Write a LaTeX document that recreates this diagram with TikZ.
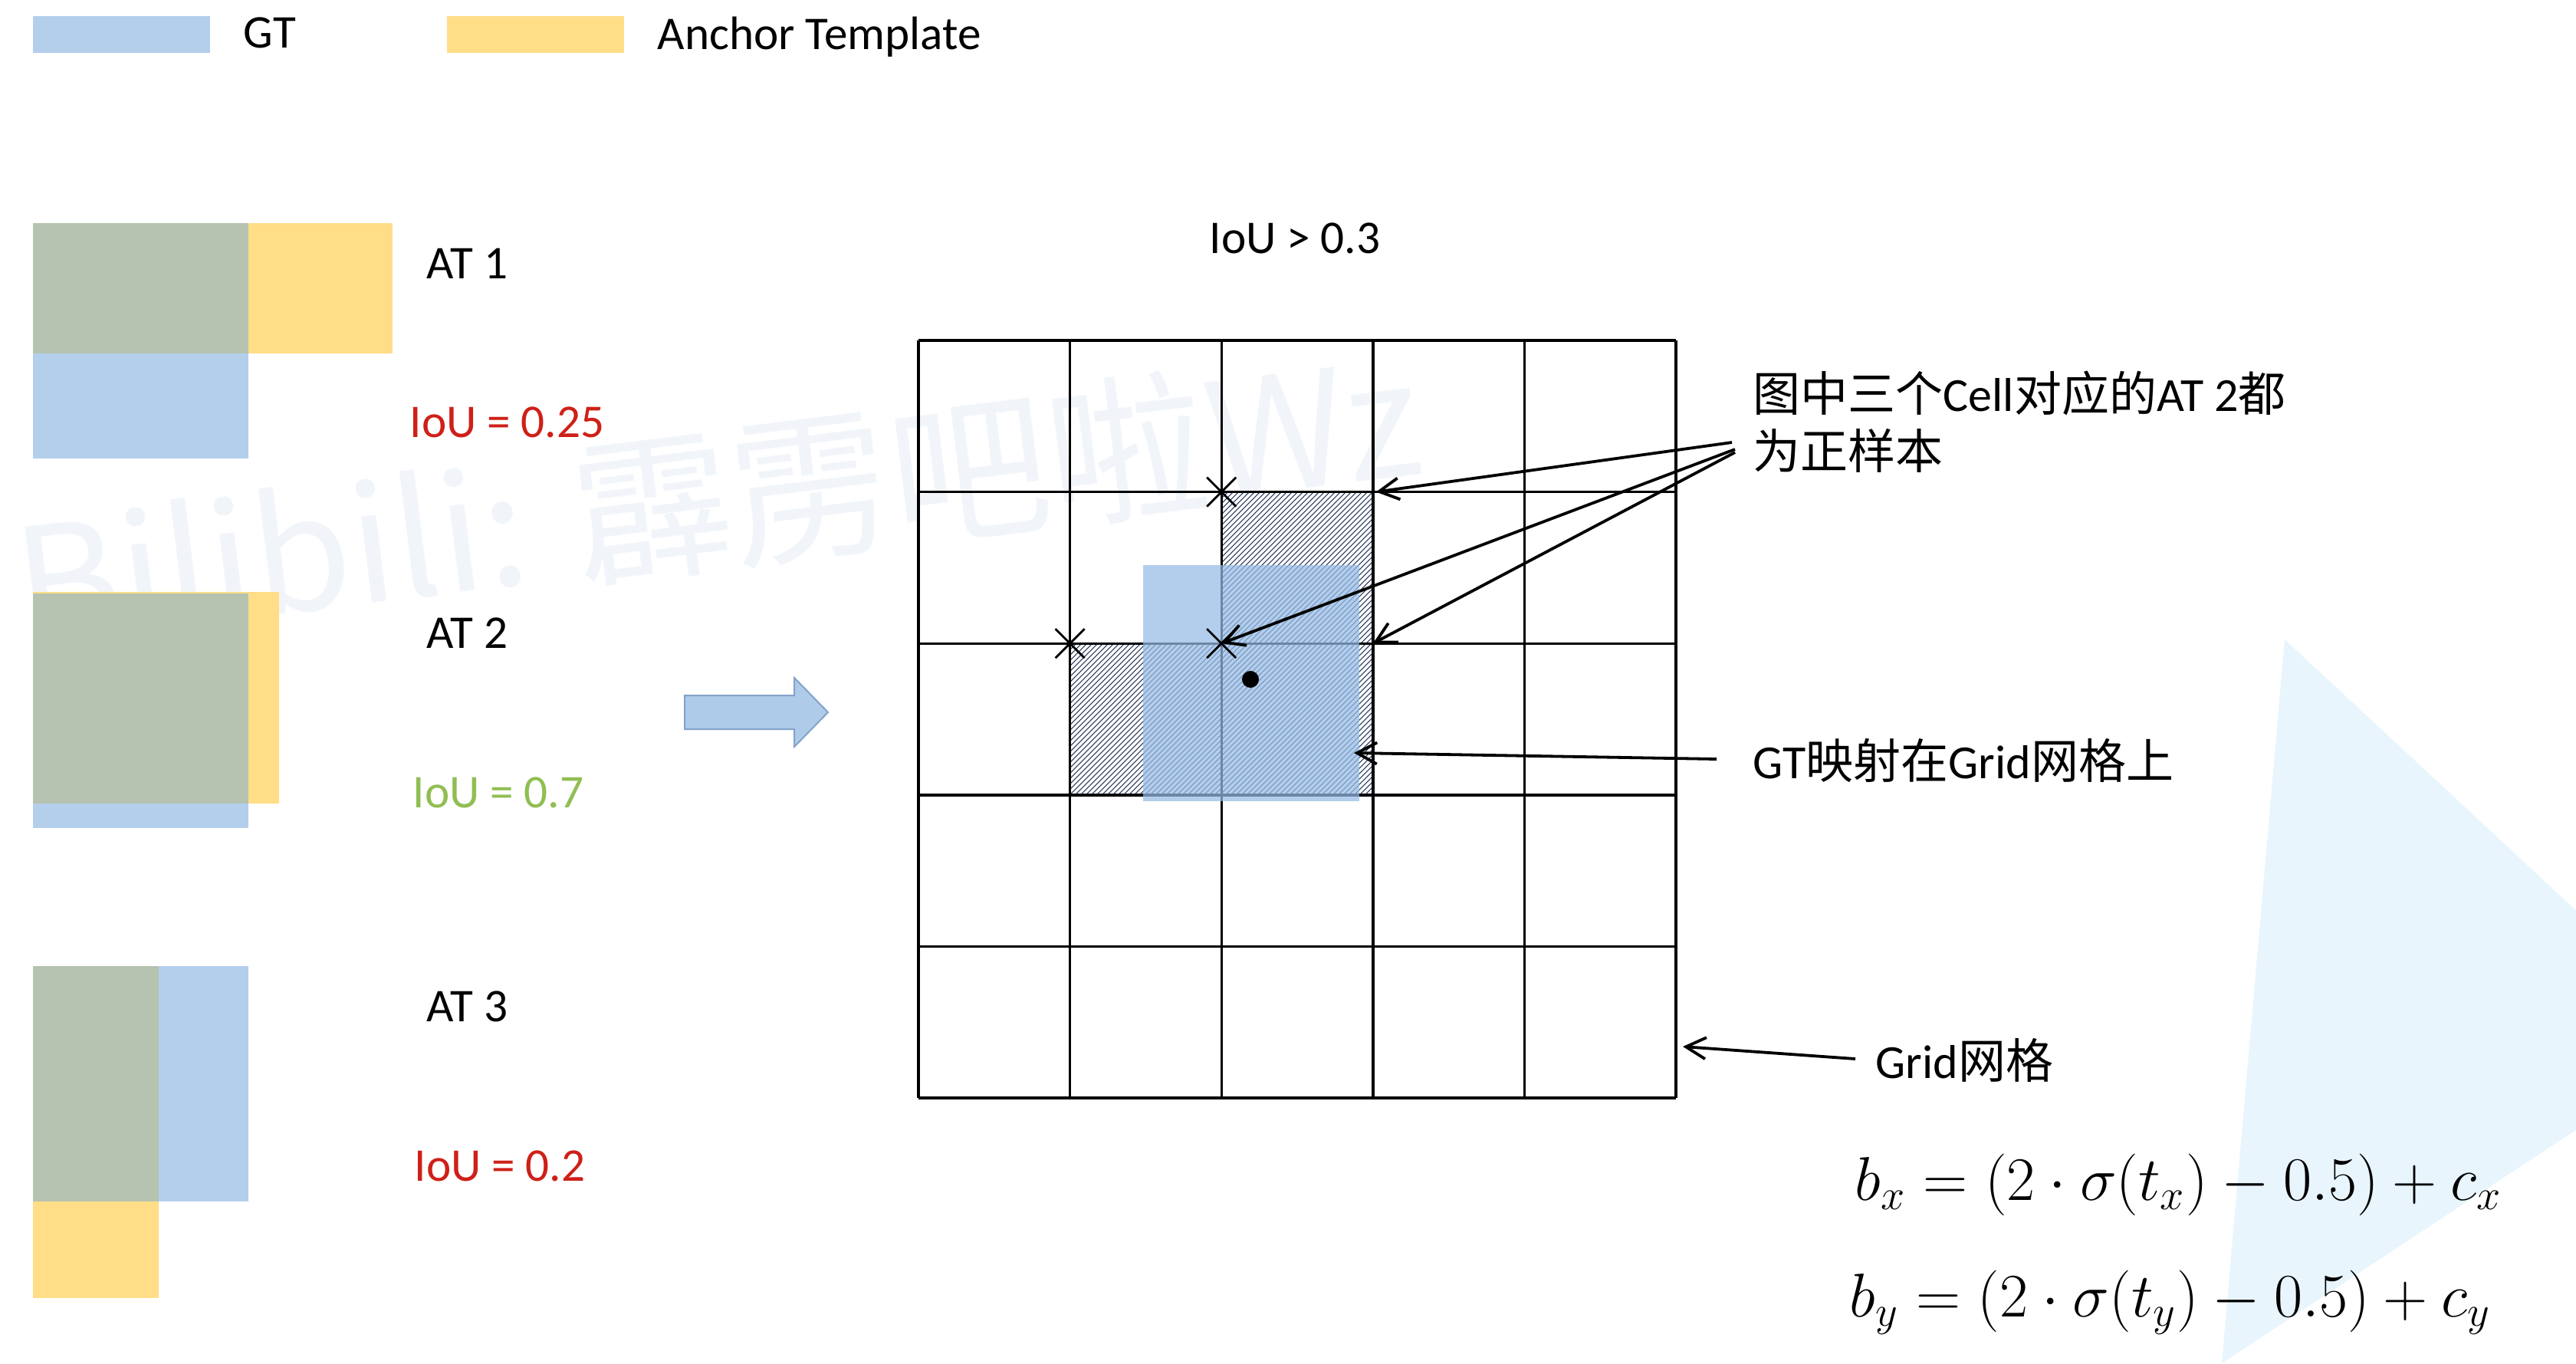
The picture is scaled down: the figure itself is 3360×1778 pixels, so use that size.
\documentclass[tikz,border=0pt]{standalone}
\usepackage{fontspec}
\setmainfont{Carlito}
\newfontfamily\cjk{Noto Sans CJK SC}
\usetikzlibrary{arrows.meta}
\definecolor{gtblue}{RGB}{180,207,236}
\definecolor{gtblueT}{RGB}{150,188,230}
\definecolor{atyellow}{RGB}{255,222,135}
\definecolor{overlap}{RGB}{182,195,176}
\definecolor{ioured}{RGB}{206,32,24}
\definecolor{iougreen}{RGB}{144,190,82}
\definecolor{wmark}{RGB}{195,212,235}
\definecolor{tri}{RGB}{232,245,253}
\definecolor{arrfill}{RGB}{174,204,234}
\definecolor{arrdraw}{RGB}{132,162,200}
\definecolor{hatchc}{RGB}{40,55,90}
\begin{document}
\begin{tikzpicture}[x=0.25pt,y=-0.25pt,
  lbl/.style={anchor=base west,inner sep=0pt,font=\fontsize{15.3}{18}\selectfont},
  cjklbl/.style={anchor=base west,inner sep=0pt,font=\fontsize{15.5}{18.6}\selectfont},
  mathlbl/.style={anchor=base west,inner sep=0pt,font=\fontsize{20.74}{24}\selectfont},
  ptr/.style={line width=0.95pt,-{Straight Barb[length=6.5pt,width=7pt]}},
  gridline/.style={line width=0.85pt},
  crossline/.style={line width=0.7pt},
  hatchline/.style={line width=0.26pt,draw=hatchc}]
\useasboundingbox (0,0) rectangle (3360,1778);
\fill[white] (0,0) rectangle (3360,1778);
% background triangle
\begin{scope}
\clip (0,0) rectangle (3360,1778);
\fill[tri] (2980,834) -- (3540,1355) -- (2898,1778) -- cycle;
\end{scope}
% watermark (faint, behind)
\node[anchor=base west,inner sep=0pt,rotate=7,text=wmark,text opacity=0.22,
  font=\cjk\fontsize{52}{60}\selectfont] (wm) at (30,842) {Bilibili: 霹雳吧啦Wz};
% legend
\fill[gtblue] (43,21) rectangle (274,69);
\node[lbl] (lgt) at (317,62) {GT};
\fill[atyellow] (583,21) rectangle (814,69);
\node[lbl] (lat) at (857,64) {Anchor Template};
% AT 1
\fill[gtblue] (43,291) rectangle (324,598);
\fill[atyellow] (43,291) rectangle (512,461);
\fill[overlap] (43,291) rectangle (324,461);
\node[lbl] (at1) at (556,363) {AT 1};
\node[lbl,text=ioured] (iou1) at (534,570) {IoU = 0.25};
% AT 2
\fill[gtblue] (43,774) rectangle (324,1080);
\fill[atyellow] (43,772) rectangle (364,1048);
\fill[overlap] (43,774) rectangle (324,1048);
\node[lbl] (at2) at (556,845) {AT 2};
\node[lbl,text=iougreen] (iou2) at (538,1053) {IoU = 0.7};
% AT 3
\fill[gtblue] (43,1260) rectangle (324,1567);
\fill[atyellow] (43,1260) rectangle (207,1693);
\fill[overlap] (43,1260) rectangle (207,1567);
\node[lbl] (at3) at (556,1332) {AT 3};
\node[lbl,text=ioured] (iou3) at (540,1540) {IoU = 0.2};
% big arrow
\filldraw[fill=arrfill,draw=arrdraw,line width=0.5pt]
  (893,907) -- (1036,907) -- (1036,884) -- (1080,929) -- (1036,974) -- (1036,951) -- (893,951) -- cycle;
% grid coordinates
\foreach \i in {0,...,5}{
  \foreach \j in {0,...,5}{
    \coordinate (g-\i-\j) at ({1198+197.6*\i},{444+197.6*\j});
  }
}
% hatching
\begin{scope}
\clip (g-2-1) -- (g-3-1) -- (g-3-3) -- (g-1-3) -- (g-1-2) -- (g-2-2) -- cycle;
\foreach \k in {0,...,114}{
  \draw[hatchline] ({1000+\k*7},1040) -- ++(405,-405);
}
\end{scope}
% grid lines
\foreach \i in {0,...,5}{
  \draw[gridline] (g-\i-0) -- (g-\i-5);
  \draw[gridline] (g-0-\i) -- (g-5-\i);
}
% GT on grid
\fill[gtblueT,fill opacity=0.72] (1491,737) rectangle (1773,1045);
% crosses
\foreach \p in {g-2-1,g-1-2,g-2-2}{
  \draw[crossline] (\p) ++(-19,-19) -- ++(38,38);
  \draw[crossline] (\p) ++(-19,19) -- ++(38,-38);
}
\node[circle,fill=black,inner sep=0pt,minimum size=5.5pt] (dot) at (1631,886) {};
% labels
\node[lbl] (iou) at (1577,330) {IoU > 0.3};
\node[cjklbl] (ann1) at (2286,536) {{\cjk 图中三个}Cell{\cjk 对应的}AT 2{\cjk 都}};
\node[cjklbl] (ann2) at (2286,611) {{\cjk 为正样本}};
\node[cjklbl] (ann3) at (2286,1015) {GT{\cjk 映射在}Grid{\cjk 网格上}};
\node[cjklbl] (ann4) at (2446,1406) {Grid{\cjk 网格}};
% connectors
\coordinate (s1) at (2259,577);
\coordinate (s2) at (2263,586);
\coordinate (s3) at (2263,590);
\coordinate (s4) at (2239,990);
\coordinate (t4) at (1766,982);
\coordinate (s5) at (2420,1381);
\coordinate (t5) at (2195,1365);
\draw[ptr] (s1) -- ([xshift=1pt]g-3-1);
\draw[ptr] (s2) -- (g-2-2);
\draw[ptr] (s3) -- (g-3-2);
\draw[ptr] (s4) -- (t4);
\draw[ptr] (s5) -- (t5);
% formulas
\node[mathlbl] (fx) at (2419,1565) {\scalebox{0.972}{$b_x = (2\cdot\sigma(t_x) - 0.5) + c_x$}};
\node[mathlbl] (fy) at (2412,1717) {\scalebox{0.972}{$b_y = (2\cdot\sigma(t_y) - 0.5) + c_y$}};
\end{tikzpicture}
\end{document}
